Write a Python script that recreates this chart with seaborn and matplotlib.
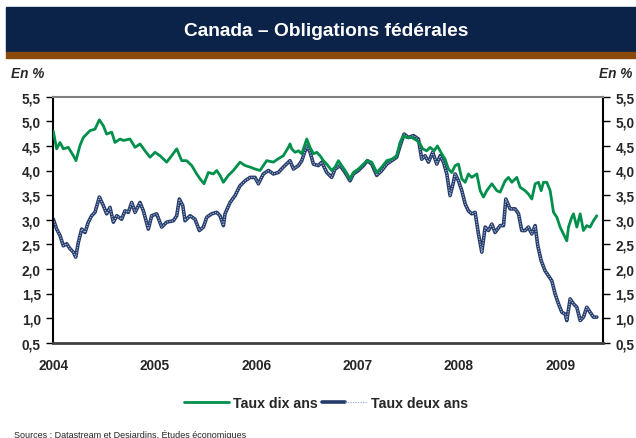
import numpy as np
import pandas as pd
import seaborn as sns
import matplotlib
matplotlib.use("Agg")
import matplotlib.pyplot as plt
from matplotlib.patches import Rectangle
from matplotlib.lines import Line2D
from matplotlib.legend_handler import HandlerTuple

# --- Data: Canadian federal bond yields (%), time in decimal years ---
t_dix = [2004.000, 2004.033, 2004.066, 2004.099, 2004.148, 2004.198, 2004.224, 2004.263, 2004.296, 2004.362,
         2004.411, 2004.454, 2004.493, 2004.526, 2004.576, 2004.608, 2004.658, 2004.691, 2004.756, 2004.806,
         2004.855, 2004.904, 2004.954, 2005.003, 2005.052, 2005.118, 2005.167, 2005.217, 2005.266, 2005.315,
         2005.365, 2005.414, 2005.447, 2005.486, 2005.529, 2005.578, 2005.611, 2005.644, 2005.677, 2005.726,
         2005.775, 2005.841, 2005.891, 2005.940, 2005.989, 2006.038, 2006.104, 2006.170, 2006.219, 2006.268,
         2006.318, 2006.334, 2006.351, 2006.384, 2006.417, 2006.450, 2006.483, 2006.499, 2006.532, 2006.565,
         2006.598, 2006.630, 2006.663, 2006.696, 2006.745, 2006.778, 2006.811, 2006.844, 2006.877, 2006.926,
         2006.959, 2007.008, 2007.058, 2007.097, 2007.140, 2007.189, 2007.239, 2007.288, 2007.337, 2007.386,
         2007.419, 2007.452, 2007.485, 2007.534, 2007.584, 2007.617, 2007.643, 2007.682, 2007.715, 2007.755,
         2007.787, 2007.830, 2007.863, 2007.896, 2007.929, 2007.962, 2007.995, 2008.028, 2008.061, 2008.093,
         2008.126, 2008.176, 2008.209, 2008.241, 2008.274, 2008.324, 2008.373, 2008.406, 2008.455, 2008.488,
         2008.521, 2008.570, 2008.603, 2008.652, 2008.685, 2008.718, 2008.751, 2008.784, 2008.810, 2008.833,
         2008.866, 2008.899, 2008.932, 2008.965, 2008.997, 2009.030, 2009.063, 2009.080, 2009.112, 2009.129,
         2009.162, 2009.195, 2009.227, 2009.260, 2009.293, 2009.326, 2009.359]
taux_dix = [4.80, 4.44, 4.57, 4.44, 4.47, 4.30, 4.20, 4.51, 4.67, 4.81,
            4.84, 5.03, 4.91, 4.74, 4.78, 4.57, 4.64, 4.61, 4.64, 4.47,
            4.54, 4.40, 4.27, 4.37, 4.30, 4.17, 4.30, 4.44, 4.20, 4.20,
            4.10, 3.93, 3.83, 3.73, 3.96, 3.93, 4.00, 3.90, 3.76, 3.90,
            4.00, 4.17, 4.10, 4.07, 4.03, 4.00, 4.20, 4.17, 4.24, 4.30,
            4.47, 4.54, 4.44, 4.37, 4.40, 4.34, 4.54, 4.64, 4.47, 4.34,
            4.37, 4.30, 4.20, 4.13, 4.00, 4.07, 4.20, 4.10, 4.00, 3.83,
            3.96, 4.03, 4.13, 4.20, 4.17, 3.96, 4.07, 4.20, 4.23, 4.30,
            4.57, 4.71, 4.67, 4.67, 4.61, 4.54, 4.44, 4.40, 4.47, 4.40,
            4.50, 4.34, 4.23, 4.03, 3.96, 4.10, 4.13, 3.83, 3.76, 3.93,
            3.86, 3.93, 3.59, 3.46, 3.59, 3.73, 3.59, 3.56, 3.79, 3.86,
            3.76, 3.86, 3.66, 3.59, 3.52, 3.42, 3.73, 3.76, 3.59, 3.76,
            3.76, 3.59, 3.15, 3.05, 2.85, 2.71, 2.57, 2.85, 3.05, 3.12,
            2.85, 3.12, 2.78, 2.88, 2.85, 2.98, 3.08]

t_deux = [2004.000, 2004.033, 2004.066, 2004.099, 2004.132, 2004.165, 2004.198, 2004.221, 2004.247, 2004.280,
          2004.313, 2004.345, 2004.378, 2004.411, 2004.454, 2004.493, 2004.526, 2004.559, 2004.592, 2004.625,
          2004.674, 2004.707, 2004.740, 2004.773, 2004.806, 2004.855, 2004.888, 2004.937, 2004.970, 2005.019,
          2005.069, 2005.118, 2005.184, 2005.217, 2005.243, 2005.276, 2005.299, 2005.348, 2005.397, 2005.440,
          2005.480, 2005.513, 2005.562, 2005.611, 2005.644, 2005.677, 2005.693, 2005.743, 2005.792, 2005.841,
          2005.891, 2005.940, 2005.989, 2006.022, 2006.071, 2006.121, 2006.170, 2006.219, 2006.268, 2006.318,
          2006.334, 2006.368, 2006.417, 2006.450, 2006.499, 2006.532, 2006.565, 2006.614, 2006.647, 2006.696,
          2006.745, 2006.778, 2006.828, 2006.877, 2006.926, 2006.959, 2007.008, 2007.058, 2007.097, 2007.140,
          2007.189, 2007.239, 2007.288, 2007.337, 2007.386, 2007.419, 2007.459, 2007.502, 2007.551, 2007.600,
          2007.633, 2007.666, 2007.699, 2007.741, 2007.781, 2007.814, 2007.847, 2007.880, 2007.912, 2007.945,
          2007.962, 2007.995, 2008.028, 2008.061, 2008.093, 2008.126, 2008.159, 2008.192, 2008.225, 2008.258,
          2008.291, 2008.324, 2008.356, 2008.406, 2008.439, 2008.462, 2008.504, 2008.554, 2008.587, 2008.619,
          2008.652, 2008.685, 2008.718, 2008.751, 2008.777, 2008.810, 2008.849, 2008.882, 2008.915, 2008.948,
          2008.981, 2009.014, 2009.047, 2009.063, 2009.096, 2009.129, 2009.162, 2009.195, 2009.227, 2009.260,
          2009.293, 2009.326, 2009.359]
taux_deux = [3.01, 2.81, 2.68, 2.47, 2.51, 2.41, 2.34, 2.24, 2.54, 2.81,
             2.74, 2.95, 3.08, 3.15, 3.46, 3.29, 3.12, 3.25, 2.95, 3.08,
             3.01, 3.18, 3.15, 3.35, 3.15, 3.35, 3.18, 2.81, 3.08, 3.12,
             2.85, 2.95, 2.98, 3.08, 3.42, 3.29, 2.98, 3.08, 3.01, 2.78,
             2.85, 3.05, 3.12, 3.15, 3.08, 2.88, 3.12, 3.35, 3.49, 3.69,
             3.79, 3.86, 3.86, 3.73, 3.93, 4.00, 3.93, 3.96, 4.07, 4.17,
             4.20, 4.03, 4.10, 4.20, 4.50, 4.37, 4.13, 4.10, 4.17, 3.96,
             3.86, 4.03, 4.10, 3.96, 3.79, 3.93, 4.00, 4.10, 4.20, 4.13,
             3.90, 4.00, 4.13, 4.20, 4.27, 4.50, 4.74, 4.67, 4.71, 4.64,
             4.23, 4.30, 4.17, 4.37, 4.13, 4.30, 4.17, 3.93, 3.49, 3.76,
             3.93, 3.79, 3.59, 3.32, 3.18, 3.12, 3.15, 2.71, 2.34, 2.85,
             2.78, 2.91, 2.74, 2.88, 2.88, 3.42, 3.22, 3.22, 3.12, 2.78,
             2.78, 2.85, 2.71, 2.88, 2.47, 2.17, 1.96, 1.86, 1.76, 1.49,
             1.29, 1.12, 1.08, 0.95, 1.39, 1.29, 1.22, 0.95, 1.02, 1.22,
             1.12, 1.02, 1.02]

annees = [2004, 2005, 2006, 2007, 2008, 2009]
y_ticks = [0.5, 1.0, 1.5, 2.0, 2.5, 3.0, 3.5, 4.0, 4.5, 5.0, 5.5]

titre = "Canada – Obligations fédérales"
nom_dix = "Taux dix ans"
nom_deux = "Taux deux ans"
source = "Sources : Datastream et Desjardins, Études économiques"

# --- Styling ---
sns.set_style("white")
plt.rcParams["font.family"] = ["Liberation Sans", "DejaVu Sans"]

VERT = "#00904c"
BLEU = "#243a68"
BLEU_CLAIR = "#a3b3d3"
MARINE = "#0b2249"
BRUN = "#8a4a0c"

df_dix = pd.DataFrame({"t": t_dix, "taux": taux_dix})
df_deux = pd.DataFrame({"t": t_deux, "taux": taux_deux})

fig = plt.figure(figsize=(6.36, 4.39), dpi=100)
W, H = 636, 439

# Header band
fig.patches.append(Rectangle((6 / W, 1 - 53 / H), 1 - 6 / W, 45 / H,
                             transform=fig.transFigure, color=MARINE, zorder=0))
fig.patches.append(Rectangle((6 / W, 1 - 59 / H), 1 - 6 / W, 6 / H,
                             transform=fig.transFigure, color=BRUN, zorder=0))
fig.text(0.513, 1 - 32 / H, titre, color="white", fontsize=13.8, fontweight="bold",
         ha="center", va="center")

ax = fig.add_axes([53.3 / W, 1 - 343.7 / H, (603 - 53.3) / W, (343.7 - 97.7) / H])

sns.lineplot(data=df_dix, x="t", y="taux", ax=ax, color=VERT, linewidth=2.0,
             estimator=None, sort=False, zorder=3)
sns.lineplot(data=df_deux, x="t", y="taux", ax=ax, color=BLEU, linewidth=2.6,
             estimator=None, sort=False, zorder=2)
sns.lineplot(data=df_deux, x="t", y="taux", ax=ax, color=BLEU_CLAIR, linewidth=0.9,
             linestyle=(0, (1, 1)), estimator=None, sort=False, zorder=2.5)

ax.set_xlim(2004, 2009.42)
ax.set_ylim(0.5, 5.5)
ax.set_xlabel("")
ax.set_ylabel("")
ax.set_xticks(annees)
ax.set_xticklabels([str(a) for a in annees], fontsize=9.8, fontweight="bold")
ax.set_yticks(y_ticks)
ylabels = [f"{v:.1f}".replace(".", ",") for v in y_ticks]
ax.set_yticklabels(ylabels, fontsize=9.8, fontweight="bold")
ax.tick_params(axis="x", length=0, pad=11)
ax.tick_params(axis="y", which="both", direction="out", length=5, width=1,
               color="black", left=True, right=True, labelleft=True, labelright=True, pad=4)

for s in ["left", "right"]:
    ax.spines[s].set_color("black")
    ax.spines[s].set_linewidth(1.5)
ax.spines["bottom"].set_color("#404040")
ax.spines["bottom"].set_linewidth(2.0)
ax.spines["top"].set_color("#808080")
ax.spines["top"].set_linewidth(1.5)
ax.grid(False)

fig.text(11 / W, 1 - 74 / H, "En %", fontsize=9.8, fontweight="bold", style="italic",
         ha="left", va="center")
fig.text(632 / W, 1 - 74 / H, "En %", fontsize=9.8, fontweight="bold", style="italic",
         ha="right", va="center")

# Legend
h_dix = Line2D([], [], color=VERT, linewidth=2.0)
h_deux = (Line2D([], [], color=BLEU, linewidth=2.6),
          Line2D([], [], color=BLEU_CLAIR, linewidth=0.9, linestyle=(0, (1, 1))))
fig.legend([h_dix, h_deux], [nom_dix, nom_deux], loc="center",
           bbox_to_anchor=(326 / W, 1 - 404 / H), ncol=2, frameon=False,
           handler_map={tuple: HandlerTuple(ndivide=None, pad=0)},
           prop={"weight": "bold", "size": 10.2}, handlelength=3.2,
           handletextpad=0.25, columnspacing=0.3)

fig.text(14 / W, 1 - 435 / H, source, fontsize=6.5, ha="left", va="center", color="#222222")

fig.savefig("out.png", dpi=100)
